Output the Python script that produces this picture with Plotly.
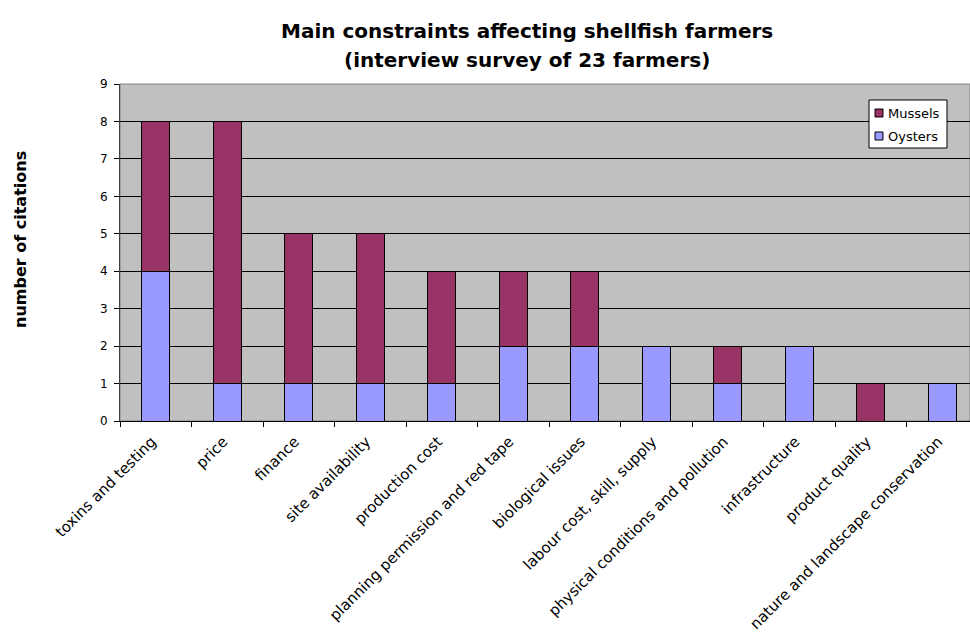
import plotly.graph_objects as go

# Constraint categories and citation counts per shellfish type
categories = [
    "toxins and testing",
    "price",
    "finance",
    "site availability",
    "production cost",
    "planning permission and red tape",
    "biological issues",
    "labour cost, skill, supply",
    "physical conditions and pollution",
    "infrastructure",
    "product quality",
    "nature and landscape conservation",
]
oysters = [4, 1, 1, 1, 1, 2, 2, 2, 1, 2, 0, 1]
mussels = [4, 7, 4, 4, 3, 2, 2, 0, 1, 0, 1, 0]
y_ticks = list(range(0, 10))

series = [("Mussels", "#993366"), ("Oysters", "#9999FF")]

FONT = "DejaVu Sans, Verdana, sans-serif"
W, H = 970, 639
L, R, T, B = 120, 0, 84, 218
plot_w = W - L - R
plot_h = H - T - B
cat_step = 71.5  # pixel width of one category slot


def px_x(x):
    return (x - L) / plot_w


def px_y(y):
    return (T + plot_h - y) / plot_h


fig = go.Figure()
fig.add_trace(go.Bar(
    name="Oysters", x=categories, y=oysters,
    marker=dict(color="#9999FF", line=dict(color="black", width=1)),
    width=0.39,
))
fig.add_trace(go.Bar(
    name="Mussels", x=categories, y=mussels,
    marker=dict(color="#993366", line=dict(color="black", width=1)),
    width=0.39,
))

# Legend box drawn in pixel-aligned paper coordinates
shapes = [
    dict(type="rect", xref="paper", yref="paper",
         x0=0, x1=1, y0=0, y1=1,
         line=dict(color="#808080", width=1), layer="below"),
    dict(type="rect", xref="paper", yref="paper",
         x0=px_x(869), x1=px_x(947), y0=px_y(148), y1=px_y(100),
         fillcolor="white", line=dict(color="black", width=1), layer="above"),
]
annotations = []
for i, (name, color) in enumerate(series):
    cy = 113 + i * 23
    shapes.append(dict(
        type="rect", xref="paper", yref="paper",
        x0=px_x(875), x1=px_x(883), y0=px_y(cy + 4), y1=px_y(cy - 4),
        fillcolor=color, line=dict(color="black", width=1), layer="above"))
    annotations.append(dict(
        text=name, xref="paper", yref="paper",
        x=px_x(886), y=px_y(cy), xanchor="left", yanchor="middle",
        showarrow=False, font=dict(family=FONT, size=13, color="black")))

annotations += [
    dict(text="<b>number of citations</b>", xref="paper", yref="paper",
         x=px_x(20), y=px_y(240), xanchor="center", yanchor="middle",
         textangle=-90, showarrow=False,
         font=dict(family=FONT, size=16, color="black")),
    dict(text="<b>Main constraints affecting shellfish farmers</b>",
         xref="paper", yref="paper", x=px_x(527), y=px_y(31),
         xanchor="center", yanchor="middle", showarrow=False,
         font=dict(family=FONT, size=20, color="black")),
    dict(text="<b>(interview survey of 23 farmers)</b>",
         xref="paper", yref="paper", x=px_x(527), y=px_y(60),
         xanchor="center", yanchor="middle", showarrow=False,
         font=dict(family=FONT, size=20, color="black")),
]

fig.update_layout(
    width=W, height=H,
    margin=dict(l=L, r=R, t=T, b=B, autoexpand=False),
    barmode="stack",
    paper_bgcolor="white",
    plot_bgcolor="#C0C0C0",
    font=dict(family=FONT, color="black", size=12),
    showlegend=False,
    xaxis=dict(
        type="category",
        range=[-0.5, -0.5 + plot_w / cat_step],
        tickangle=-45,
        ticks="outside", ticklen=5, tickcolor="black", tickwidth=1,
        tickson="boundaries",
        showline=True, linecolor="black", linewidth=1,
        showgrid=False, automargin=False,
        ticklabelstandoff=5, ticklabelshift=-4,
        tickfont=dict(size=15, family=FONT, color="black"),
    ),
    yaxis=dict(
        range=[0, 9],
        tickvals=y_ticks,
        ticks="outside", ticklen=5, tickcolor="black", tickwidth=1,
        showline=True, linecolor="#404040", linewidth=1,
        showgrid=True, gridcolor="black", gridwidth=1,
        zeroline=False, automargin=False,
        ticklabelstandoff=4,
        tickfont=dict(size=12, family=FONT, color="black"),
    ),
    annotations=annotations,
    shapes=shapes,
)

fig.write_html("out.html")
